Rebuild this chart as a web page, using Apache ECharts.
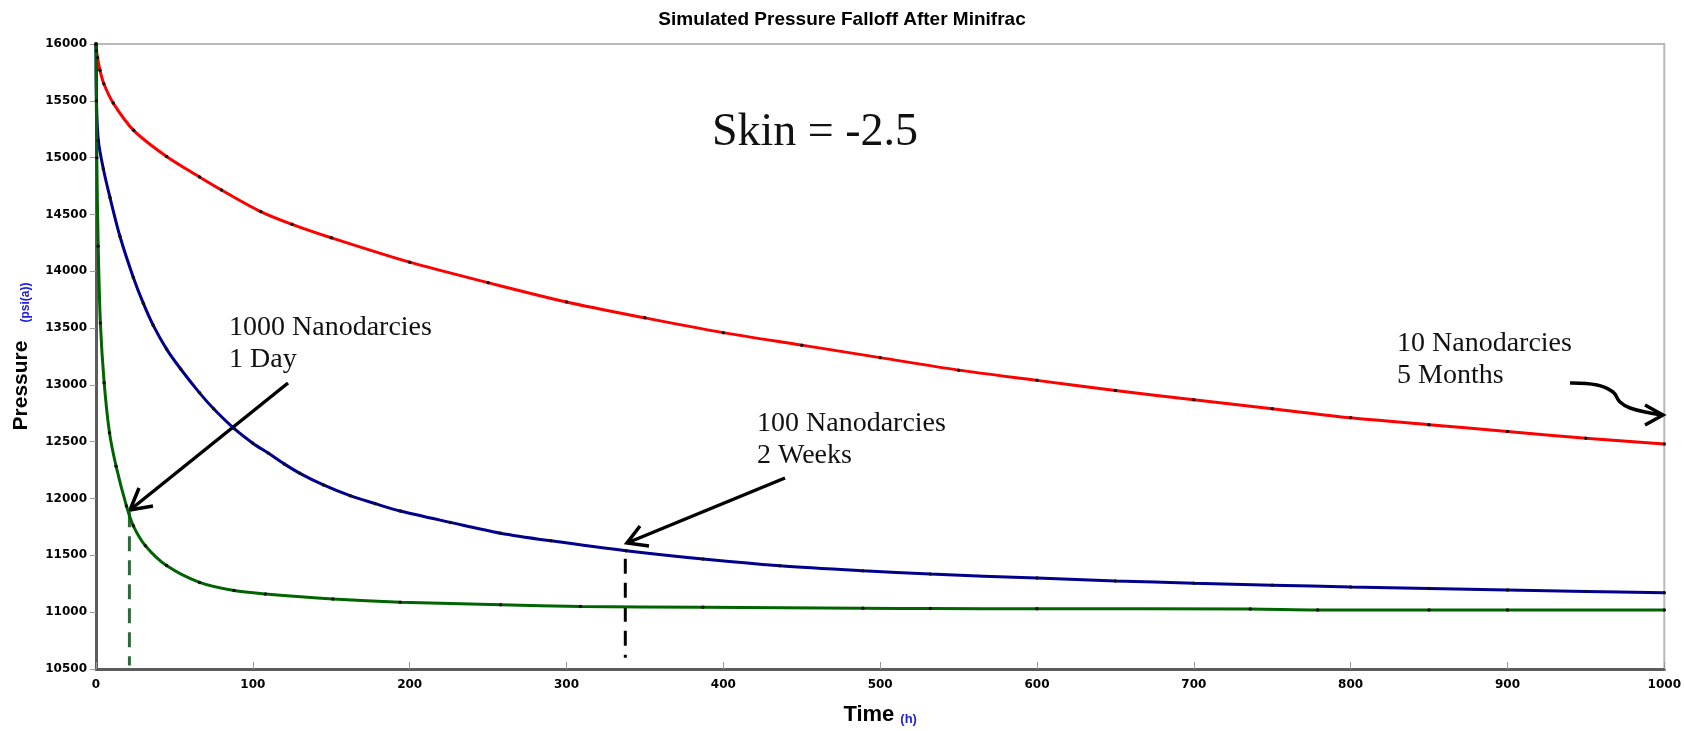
<!DOCTYPE html>
<html>
<head>
<meta charset="utf-8">
<title>Simulated Pressure Falloff After Minifrac</title>
<script src="https://cdn.jsdelivr.net/npm/echarts@6/dist/echarts.min.js"></script>
<style>
  html, body { margin: 0; padding: 0; background: #fff; }
  #chart { width: 1684px; height: 731px; }
</style>
</head>
<body>
<div id="chart"></div>
<script>
  // time (h), pressure (psi(a))
  const perm10nd = [[0, 16000], [0.3, 15940], [1, 15880], [2.5, 15770], [5, 15650], [11, 15480], [24, 15240],
    [45, 15010], [66, 14830], [80, 14715], [105, 14525], [125, 14413], [150, 14295], [200, 14080], [250, 13900],
    [300, 13730], [350, 13590], [400, 13460], [450, 13350], [500, 13240], [550, 13130], [600, 13040],
    [650, 12950], [700, 12870], [750, 12790], [800, 12710], [850, 12650], [900, 12590], [950, 12530], [1000, 12480]]

  const perm100nd = [[0, 16000], [0.3, 15500], [1.5, 15150], [4.7, 14900], [8.9, 14650], [15.3, 14306],
    [23.8, 13946], [30.2, 13717], [36.5, 13524], [45, 13315], [54, 13140], [66, 12930], [75, 12790],
    [88, 12617], [100, 12487], [110, 12398], [120, 12305], [130, 12222], [145, 12120], [162, 12025],
    [178, 11955], [194, 11890], [226, 11790], [258, 11695], [290, 11628], [338, 11540], [387, 11467],
    [436, 11408], [489, 11364], [532, 11335], [600, 11300], [650, 11275], [700, 11255], [750, 11238],
    [800, 11222], [850, 11208], [900, 11195], [950, 11183], [1000, 11170]]

  const perm1000nd = [[0, 16000], [0.5, 15000], [1.4, 14220], [2.8, 13545], [5.2, 13020], [8.6, 12580],
    [12.8, 12285], [19.4, 11935], [23.8, 11760], [31.5, 11585], [45, 11410], [66, 11262], [88, 11190],
    [108, 11160], [151, 11116], [194, 11088], [258, 11066], [309, 11050], [387, 11043], [489, 11035],
    [532, 11032], [600, 11030], [736, 11028], [779, 11020], [850, 11020], [900, 11020], [1000, 11019]]

  // dashed markers: 1 day and 2 weeks
  const oneDayMark = [[21.3, 11880], [21.3, 10530]]
  const twoWeekMark = [[337.5, 11470], [337.5, 10600]]

  const xTicks = { min: 0, max: 1000, interval: 100 }
  const yTicks = { min: 10500, max: 16000, interval: 500 }

  const chart = echarts.init(document.getElementById('chart'))

  function curve(name, data, color) {
    return {
      name: name,
      type: 'line',
      data: data,
      smooth: 0.3,
      symbol: 'circle',
      symbolSize: 3.5,
      itemStyle: { color: '#111' },
      lineStyle: { color: color, width: 3 },
      animation: false
    }
  }

  function dashed(data, color) {
    return {
      type: 'line',
      data: data,
      showSymbol: false,
      lineStyle: { color: color, width: 3, type: [15, 9] },
      animation: false,
      silent: true
    }
  }

  const sans = 'Liberation Sans, Arial'
  const serif = '"Liberation Serif", "Times New Roman", serif'
  const arrowStyle = { stroke: '#000', lineWidth: 3.5, fill: 'none' }
  const tickLabel = { fontFamily: 'DejaVu Sans', fontWeight: 'bold', fontSize: 12, color: '#000', formatter: v => String(v) }

  chart.setOption({
    backgroundColor: '#fff',
    title: {
      text: 'Simulated Pressure Falloff After Minifrac',
      left: 'center',
      top: 5,
      textStyle: { fontFamily: sans, fontWeight: 'bold', fontSize: 19, color: '#000' }
    },
    grid: {
      left: 96,
      right: 19,
      top: 44,
      bottom: 61,
      show: true,
      borderColor: '#b8b8b8',
      borderWidth: 2
    },
    xAxis: {
      type: 'value',
      min: xTicks.min,
      max: xTicks.max,
      interval: xTicks.interval,
      name: '{main|Time}{unit|(h)}',
      nameLocation: 'middle',
      nameGap: 35,
      nameTextStyle: {
        rich: {
          main: { fontFamily: sans, fontWeight: 'bold', fontSize: 22, color: '#000' },
          unit: { fontFamily: sans, fontWeight: 'bold', fontSize: 13, color: '#1f1fd6', verticalAlign: 'bottom', padding: [0, 0, 0, 6] }
        }
      },
      axisLine: { lineStyle: { color: '#5c5c5c', width: 3 } },
      axisTick: { inside: true, length: 7, lineStyle: { color: '#999' } },
      axisLabel: Object.assign({ margin: 10 }, tickLabel),
      splitLine: { show: false }
    },
    yAxis: {
      type: 'value',
      min: yTicks.min,
      max: yTicks.max,
      interval: yTicks.interval,
      name: '{main|Pressure}{unit|(psi(a))}',
      nameLocation: 'middle',
      nameRotate: 90,
      nameGap: 64,
      nameTextStyle: {
        rich: {
          main: { fontFamily: sans, fontWeight: 'bold', fontSize: 21, color: '#000' },
          unit: { fontFamily: sans, fontWeight: 'bold', fontSize: 12, color: '#1f1fd6', verticalAlign: 'bottom', padding: [0, 0, 0, 18] }
        }
      },
      axisLine: { show: true, lineStyle: { color: '#5c5c5c', width: 3 } },
      axisTick: { show: true, length: 6, lineStyle: { color: '#999' } },
      axisLabel: Object.assign({ margin: 9 }, tickLabel),
      splitLine: { show: false }
    },
    series: [
      dashed(oneDayMark, '#2f6a3a'),
      dashed(twoWeekMark, '#000'),
      curve('10 Nanodarcies', perm10nd, '#ff0000'),
      curve('100 Nanodarcies', perm100nd, '#00008c'),
      curve('1000 Nanodarcies', perm1000nd, '#006400')
    ],
    graphic: [
      {
        type: 'text', x: 815, y: 133,
        style: { text: 'Skin = -2.5', font: '46px ' + serif, fill: '#111', align: 'center', verticalAlign: 'middle' }
      },
      {
        type: 'text', x: 229, y: 312,
        style: { text: '1000 Nanodarcies\n1 Day', font: '28px ' + serif, fill: '#111', lineHeight: 32 }
      },
      {
        type: 'text', x: 757, y: 408,
        style: { text: '100 Nanodarcies\n2 Weeks', font: '28px ' + serif, fill: '#111', lineHeight: 32 }
      },
      {
        type: 'text', x: 1397, y: 328,
        style: { text: '10 Nanodarcies\n5 Months', font: '28px ' + serif, fill: '#111', lineHeight: 32 }
      },
      // arrows
      { type: 'polyline', shape: { points: [[288, 383], [130, 510]] }, style: arrowStyle },
      { type: 'polyline', shape: { points: [[153, 506], [130, 510], [139, 488]] }, style: arrowStyle },
      { type: 'polyline', shape: { points: [[785, 478], [627, 543]] }, style: arrowStyle },
      { type: 'polyline', shape: { points: [[649, 546], [627, 543], [640, 526]] }, style: arrowStyle },
      {
        type: 'polyline',
        shape: { points: [[1570, 383], [1597, 385], [1613, 392], [1620, 402], [1630, 408], [1650, 413], [1663, 415]], smooth: 0.4 },
        style: arrowStyle
      },
      { type: 'polyline', shape: { points: [[1645, 405], [1663, 415], [1645, 425]] }, style: arrowStyle }
    ]
  })
</script>
</body>
</html>
